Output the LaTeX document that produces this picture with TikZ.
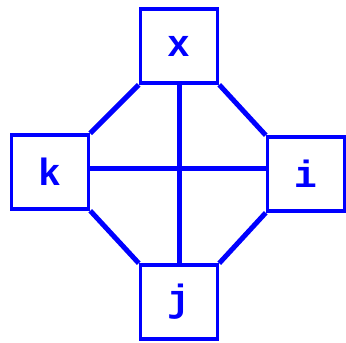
\documentclass[tikz,border=0pt]{standalone}
\usepackage{fontspec}
\setmonofont{Liberation Mono}
\usetikzlibrary{positioning, calc}

\tikzset{
    cell/.style={draw=blue, line width=3.5pt, minimum width=77pt, minimum height=74pt,
        text=blue, font=\fontsize{38}{38}\selectfont\ttfamily\bfseries, inner sep=0pt},
    link/.style={blue, line width=5pt}
}

\begin{document}
\begin{tikzpicture}[x=1pt, y=-1pt]
    \useasboundingbox (0,0) rectangle (346,343);

    % Boxes
    \node[cell] (x) at (179, 46) {x};
    \node[cell] (k) at (50, 172) {k};
    \node[cell] (i) at (306, 174) {i};
    \node[cell] (j) at (179, 302) {j};

    % Cross
    \draw[link] (x.south) -- (j.north);
    \draw[link] ([yshift=4pt]k.east) -- ([yshift=4pt]k.east -| i.west);

    % Diagonals
    \draw[link] (x.south west) -- (k.north east);
    \draw[link] (x.south east) -- (i.north west);
    \draw[link] (k.south east) -- (j.north west);
    \draw[link] (i.south west) -- (j.north east);
\end{tikzpicture}
\end{document}
